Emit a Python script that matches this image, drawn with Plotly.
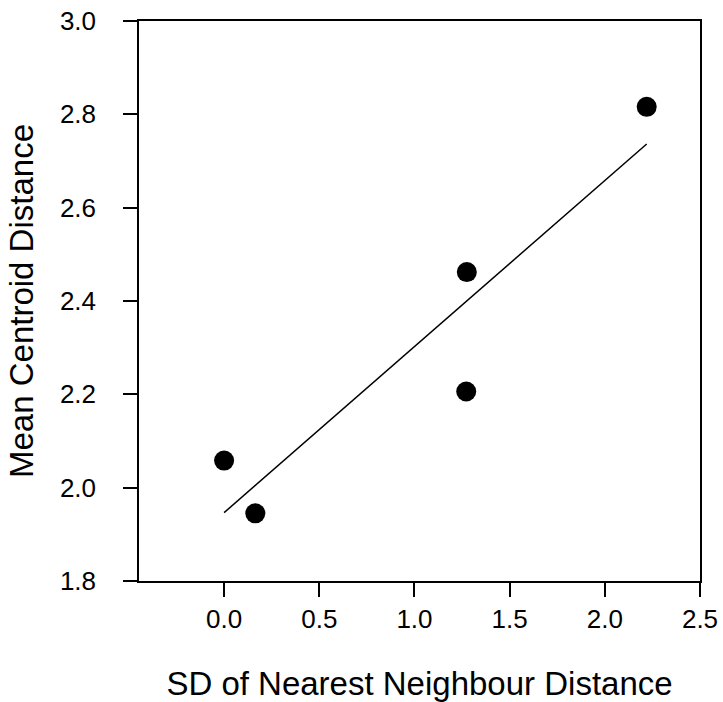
import plotly.graph_objects as go
import numpy as np

# Data
sd_nn = [0.0, 0.164, 1.275, 1.272, 2.22]
mean_centroid = [2.058, 1.945, 2.462, 2.206, 2.816]

x_ticks = [0.0, 0.5, 1.0, 1.5, 2.0, 2.5]
y_ticks = [1.8, 2.0, 2.2, 2.4, 2.6, 2.8, 3.0]

slope, intercept = np.polyfit(sd_nn, mean_centroid, 1)
fit_x = [min(sd_nn), max(sd_nn)]
fit_y = [intercept + slope * v for v in fit_x]

fig = go.Figure()
fig.add_trace(go.Scatter(x=fit_x, y=fit_y, mode="lines",
                         line=dict(color="black", width=1.5), showlegend=False))
fig.add_trace(go.Scatter(x=sd_nn, y=mean_centroid, mode="markers",
                         marker=dict(color="black", size=20), showlegend=False))

font_family = "Liberation Sans, Arial, sans-serif"
axis_common = dict(showline=True, linecolor="black", linewidth=1.5, mirror=True,
                   ticks="outside", ticklen=14, tickwidth=1.5, tickcolor="black",
                   showgrid=False, zeroline=False, automargin=False,
                   tickfont=dict(family=font_family, size=26, color="black"))

fig.update_layout(
    width=723, height=702,
    margin=dict(l=139, r=23, t=21, b=121),
    paper_bgcolor="white", plot_bgcolor="white",
    xaxis=dict(range=[-0.447, 2.5], tickvals=x_ticks,
               ticktext=[f"{v:.1f}" for v in x_ticks],
               title=dict(text="SD of Nearest Neighbour Distance",
                          font=dict(family=font_family, size=33, color="black"),
                          standoff=44),
               ticklabelstandoff=0, **axis_common),
    yaxis=dict(range=[1.8, 3.0], tickvals=y_ticks,
               ticktext=[f"{v:.1f}" for v in y_ticks],
               title=dict(text="Mean Centroid Distance",
                          font=dict(family=font_family, size=33, color="black"),
                          standoff=16),
               ticklabelstandoff=22, **axis_common),
)

fig.write_html("out.html")
